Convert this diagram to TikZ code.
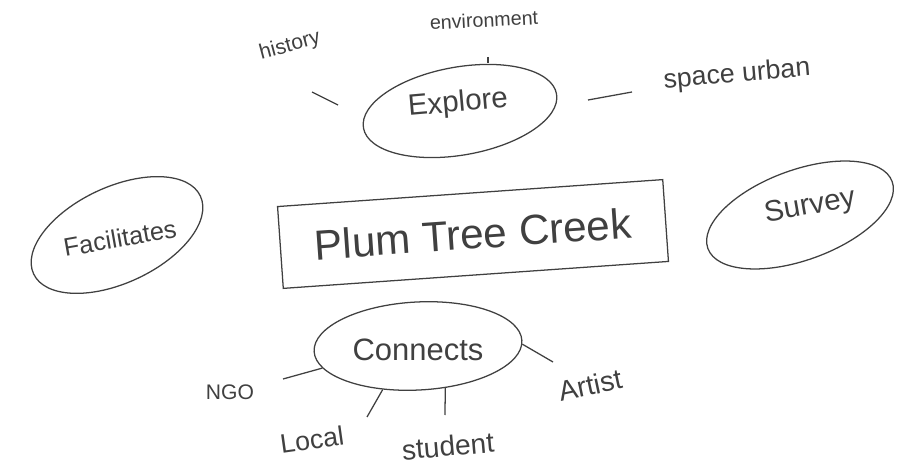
\documentclass[tikz,border=0pt]{standalone}
\usepackage{fontspec}
\setmainfont{Liberation Sans}
\usetikzlibrary{shapes.geometric}

\newcommand{\fs}[1]{\fontsize{#1}{#1}\selectfont}

\begin{document}
\begin{tikzpicture}[x=0.025cm, y=-0.025cm, color=black!75, line width=0.9pt,
  oval/.style={draw, ellipse, inner sep=0pt},
  word/.style={inner sep=1pt}]
  \useasboundingbox (0,0) rectangle (898,471);

  % the creek in the middle
  \node[draw, rotate=4, minimum width=9.65cm, minimum height=2.05cm, font=\fs{30pt}]
    (creek) at (473,234) {Plum Tree Creek};

  % ovals round it
  \node[oval, rotate=10, minimum width=4.9cm, minimum height=2.2cm] (explore) at (460,111) {};
  \node[word, rotate=5, font=\fs{21pt}] (exploretxt) at (458,104) {Explore};
  \node[oval, rotate=25, minimum width=4.6cm, minimum height=2.4cm] (facil) at (117,235) {};
  \node[word, rotate=10, font=\fs{18pt}] (faciltxt) at (120,238) {Facilitates};
  \node[oval, rotate=20, minimum width=4.9cm, minimum height=2.25cm] (survey) at (800,215) {};
  \node[word, rotate=10, font=\fs{21pt}] (surveytxt) at (810,207) {Survey};
  \node[oval, rotate=3, minimum width=5.2cm, minimum height=2.2cm] (connects) at (418,346) {};
  \node[word, font=\fs{22pt}] (connectstxt) at (418,350) {Connects};

  % words round Explore
  \node[word, rotate=15, font=\fs{15pt}] (hist) at (290,46) {history};
  \node[word, rotate=3, font=\fs{14pt}] (envir) at (484,20) {environment};
  \node[word, rotate=5, font=\fs{19pt}] (urban) at (737,75) {space urban};
  \coordinate (h1) at (312,92);
  \coordinate (h2) at (338,105);
  \coordinate (e1) at (488,57);
  \coordinate (e2) at (488,63);
  \coordinate (u1) at (588,100);
  \coordinate (u2) at (632,92);
  \draw (h1) -- (h2);
  \draw (e1) -- (e2);
  \draw (u1) -- (u2);

  % words round Connects
  \node[word, font=\fs{15pt}] (ngo) at (230,392) {NGO};
  \node[word, rotate=8, font=\fs{19pt}] (local) at (312,440) {Local};
  \node[word, rotate=5, font=\fs{20pt}] (student) at (448,446) {student};
  \node[word, rotate=12, font=\fs{20pt}] (artist) at (590,385) {Artist};
  \coordinate (n1) at (283,379);
  \coordinate (l1) at (367,417);
  \coordinate (s1) at (445,415);
  \coordinate (a1) at (553,362);
  \draw (connects.190) -- (n1);
  \draw (connects.228) -- (l1);
  \draw (connects.300) -- (s1);
  \draw (connects.358) -- (a1);
\end{tikzpicture}
\end{document}
